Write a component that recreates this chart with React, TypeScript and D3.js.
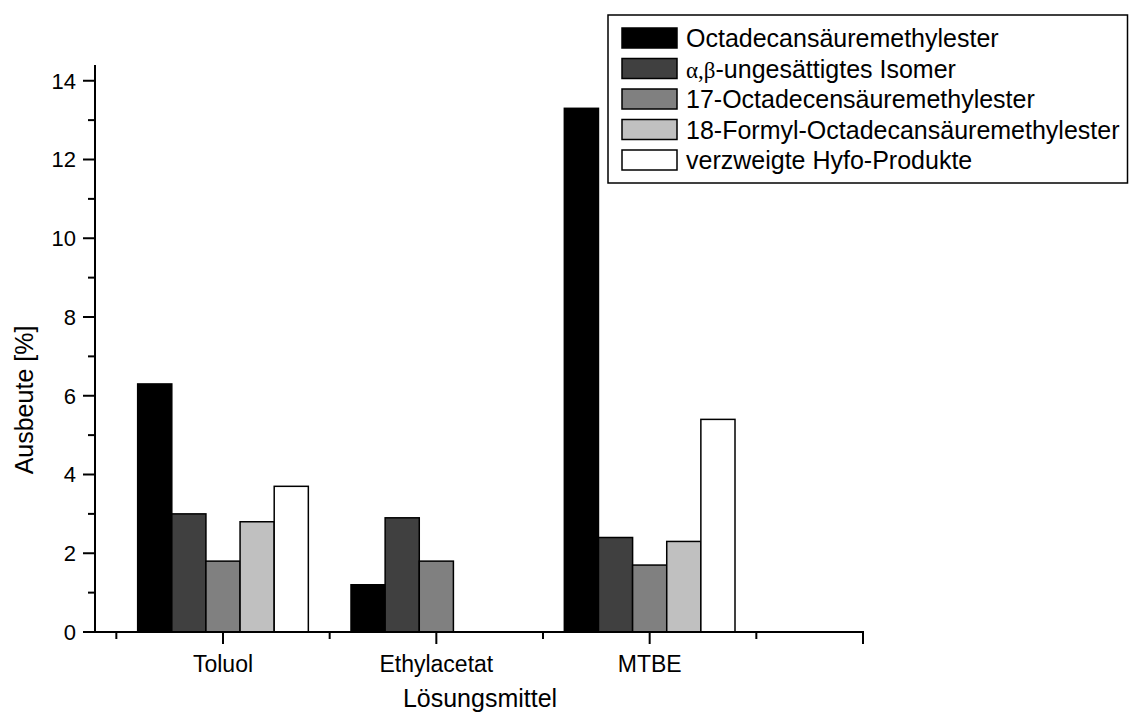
import React from "react";
import * as d3 from "d3";

const categories = ["Toluol", "Ethylacetat", "MTBE"];
const seriesNames = [
  "Octadecansäuremethylester",
  "α,β-ungesättigtes Isomer",
  "17-Octadecensäuremethylester",
  "18-Formyl-Octadecansäuremethylester",
  "verzweigte Hyfo-Produkte",
];
const seriesColors = ["#000000", "#404040", "#808080", "#c0c0c0", "#ffffff"];
// one array per series, values per category
const octadecan = [6.3, 1.2, 13.3];
const isomer = [3.0, 2.9, 2.4];
const octadecen = [1.8, 1.8, 1.7];
const formyl = [2.8, 0, 2.3];
const hyfo = [3.7, 0, 5.4];
const seriesValues = [octadecan, isomer, octadecen, formyl, hyfo];
const yTickValues = [0, 2, 4, 6, 8, 10, 12, 14];

export default function App() {
  const width = 1129;
  const height = 713;
  const font = "'Liberation Sans', Arial, sans-serif";

  // x axis in "category units": 1, 2, 3 are the groups
  const xScale = d3.scaleLinear().domain([0.4, 4]).range([95, 863]);
  const yScale = d3.scaleLinear().domain([0, 14.4]).range([632, 65]);
  const barW = 0.16;

  const majorX = [1, 2, 3, 4];
  const minorX = [0.5, 1.5, 2.5, 3.5];
  const minorY = d3.range(1, 14, 2);

  const legendX = 608;
  const legendY = 15;
  const rowH = 30.5;

  return (
    <svg
      width={width}
      height={height}
      style={{ position: "absolute", left: 0, top: 0, background: "#fff" }}
      fontFamily={font}
    >
      {/* bars */}
      {seriesValues.map((vals, s) =>
        vals.map((v, c) => {
          if (v <= 0) return null;
          const x0 = xScale(c + 1 - 0.4 + s * barW);
          const x1 = xScale(c + 1 - 0.4 + (s + 1) * barW);
          return (
            <rect
              key={s + "-" + c}
              x={x0}
              y={yScale(v)}
              width={x1 - x0}
              height={yScale(0) - yScale(v)}
              fill={seriesColors[s]}
              stroke="#000"
              strokeWidth={1.5}
            />
          );
        })
      )}

      {/* y axis */}
      <line x1={95} x2={95} y1={yScale(0) + 1} y2={yScale(14.4)} stroke="#000" strokeWidth={2} />
      {yTickValues.map((t) => (
        <g key={t}>
          <line x1={83} x2={95} y1={yScale(t)} y2={yScale(t)} stroke="#000" strokeWidth={2} />
          <text x={76} y={yScale(t)} dy="0.36em" textAnchor="end" fontSize={22}>
            {t}
          </text>
        </g>
      ))}
      {minorY.map((t) => (
        <line key={t} x1={88} x2={95} y1={yScale(t)} y2={yScale(t)} stroke="#000" strokeWidth={2} />
      ))}
      <text
        transform={`translate(33, 400) rotate(-90)`}
        textAnchor="middle"
        fontSize={25}
      >
        Ausbeute [%]
      </text>

      {/* x axis */}
      <line x1={94} x2={xScale(4) + 1} y1={yScale(0)} y2={yScale(0)} stroke="#000" strokeWidth={2} />
      {majorX.map((t) => (
        <line key={t} x1={xScale(t)} x2={xScale(t)} y1={yScale(0)} y2={yScale(0) + 12} stroke="#000" strokeWidth={2} />
      ))}
      {minorX.map((t) => (
        <line key={t} x1={xScale(t)} x2={xScale(t)} y1={yScale(0)} y2={yScale(0) + 7} stroke="#000" strokeWidth={2} />
      ))}
      {categories.map((c, i) => (
        <text key={c} x={xScale(i + 1)} y={672} textAnchor="middle" fontSize={23}>
          {c}
        </text>
      ))}
      <text x={480} y={707} textAnchor="middle" fontSize={25}>
        Lösungsmittel
      </text>

      {/* legend */}
      <rect x={legendX} y={legendY} width={519.5} height={168} fill="#fff" stroke="#000" strokeWidth={1.5} />
      {seriesNames.map((name, i) => {
        const top = 28 + i * rowH;
        return (
          <g key={name}>
            <rect x={622} y={top} width={55} height={20} fill={seriesColors[i]} stroke="#000" strokeWidth={1.5} />
            {i === 1 ? (
              <text x={686} y={top + 19} fontSize={25}>
                <tspan fontFamily="'Liberation Serif', serif" fontSize={23}>α,β</tspan>
                <tspan>-ungesättigtes Isomer</tspan>
              </text>
            ) : (
              <text x={686} y={top + 19} fontSize={25}>
                {name}
              </text>
            )}
          </g>
        );
      })}
    </svg>
  );
}
